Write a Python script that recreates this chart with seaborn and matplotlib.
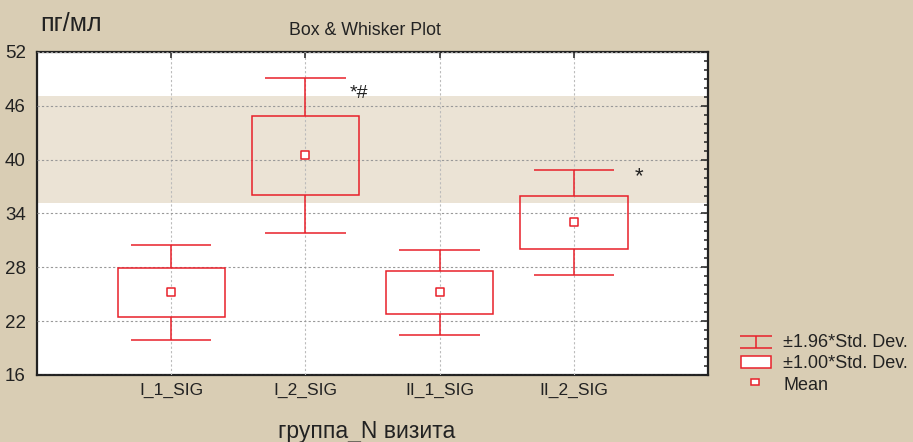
#!/usr/bin/env python3
# Box & Whisker plot (mean, ±1SD box, ±1.96SD whiskers) for 4 groups

import matplotlib.pyplot as plt
from matplotlib.patches import Rectangle
import seaborn as sns
import pandas as pd

groups = ["I_1_SIG", "I_2_SIG", "II_1_SIG", "II_2_SIG"]
means = [25.2, 40.5, 25.2, 33.0]
sds = [2.7, 4.4, 2.4, 3.0]
marks = ["", "*#", "", "*"]
ref_low, ref_high = 35.2, 47.1
y_ticks = [16, 22, 28, 34, 40, 46, 52]

BG = "#d9cdb4"
BAND = "#ebe3d5"
RED = "#e8202a"
INK = "#222222"


def boxPlot(df: pd.DataFrame):
    fig = plt.figure(figsize=(9.13, 4.42), dpi=100, facecolor=BG)
    ax = fig.add_axes([0.0405, 0.1516, 0.735, 0.7308])
    ax.set_facecolor("white")

    ax.axhspan(ref_low, ref_high, color=BAND, zorder=0, lw=0)

    for i, row in df.iterrows():
        lo1, hi1 = row["mean"] - row["sd"], row["mean"] + row["sd"]
        lo2, hi2 = row["mean"] - 1.96 * row["sd"], row["mean"] + 1.96 * row["sd"]
        ax.add_patch(Rectangle((i - 0.4, lo1), 0.8, hi1 - lo1, fill=False,
                               ec=RED, lw=1.1, zorder=3))
        ax.vlines(i, hi1, hi2, color=RED, lw=1.1, zorder=3)
        ax.vlines(i, lo2, lo1, color=RED, lw=1.1, zorder=3)
        ax.hlines([lo2, hi2], i - 0.3, i + 0.3, color=RED, lw=1.1, zorder=3)
        if row["mark"] == "*#":
            ax.text(i + 0.33, hi2 - 1.75, row["mark"], fontsize=14,
                    ha="left", va="center", color=INK, zorder=4)
        elif row["mark"]:
            ax.text(i + 0.45, hi2 - 0.8, row["mark"], fontsize=16,
                    ha="left", va="center", color=INK, zorder=4)

    sns.scatterplot(data=df, x="pos", y="mean", marker="s", s=40, color="white",
                    edgecolor=RED, linewidth=1.1, ax=ax, zorder=4, legend=False)

    ax.set_xlim(-1, 4)
    ax.set_ylim(16, 52)
    ax.set_xticks(range(len(groups)))
    ax.set_xticklabels(groups, fontsize=12.5)
    ax.set_yticks(y_ticks)
    ax.set_yticklabels([str(t) for t in y_ticks], fontsize=13.5)
    ax.set_yticks(range(16, 53), minor=True)
    ax.tick_params(axis="both", which="both", direction="in", top=True, right=True,
                   colors=INK, width=1.1)
    ax.tick_params(axis="y", which="major", length=5, pad=8)
    ax.tick_params(axis="y", which="minor", length=3)
    ax.tick_params(axis="x", which="major", length=4, pad=6)
    ax.grid(True, axis="y", which="major", color="#999999", ls=(0, (2, 2)), lw=0.8, zorder=1)
    ax.grid(True, axis="x", which="major", color="#bbbbbb", ls=(0, (2, 2)), lw=0.8, zorder=1)
    ax.set_axisbelow(False)
    for sp in ax.spines.values():
        sp.set_color(INK)
        sp.set_linewidth(1.6)
    ax.set_xlabel("")
    ax.set_ylabel("")

    fig.text(0.044, 0.945, "пг/мл", fontsize=18, ha="left", va="center", color=INK)
    fig.text(0.40, 0.932, "Box & Whisker Plot", fontsize=12.8, ha="center", va="center",
             color=INK)
    fig.text(0.402, 0.024, "группа_N визита", fontsize=16.5, ha="center", va="center",
             color=INK)

    # legend drawn in pixel space
    lg = fig.add_axes([730 / 913, 47 / 442, 183 / 913, 70 / 442])
    lg.set_xlim(730, 913)
    lg.set_ylim(395, 325)
    lg.axis("off")
    lg.hlines([336, 348], 740, 772, color=RED, lw=1.1)
    lg.vlines(756, 336, 348, color=RED, lw=1.1)
    lg.add_patch(Rectangle((741, 356), 30, 12, fill=True, fc="white", ec=RED, lw=1.1))
    lg.add_patch(Rectangle((751, 379), 8, 6, fill=True, fc="white", ec=RED, lw=1.1))
    for y, t in [(342, "±1.96*Std. Dev."), (363, "±1.00*Std. Dev."), (385, "Mean")]:
        lg.text(783, y, t, fontsize=13, ha="left", va="center", color=INK)

    fig.savefig("out.png", dpi=100, facecolor=BG)


def main():
    sns.set_style("white")
    plt.rcParams["font.family"] = ["Liberation Sans", "DejaVu Sans"]
    df = pd.DataFrame({"group": groups, "mean": means, "sd": sds, "mark": marks})
    df["pos"] = range(len(groups))
    boxPlot(df)


if __name__ == "__main__":
    main()
